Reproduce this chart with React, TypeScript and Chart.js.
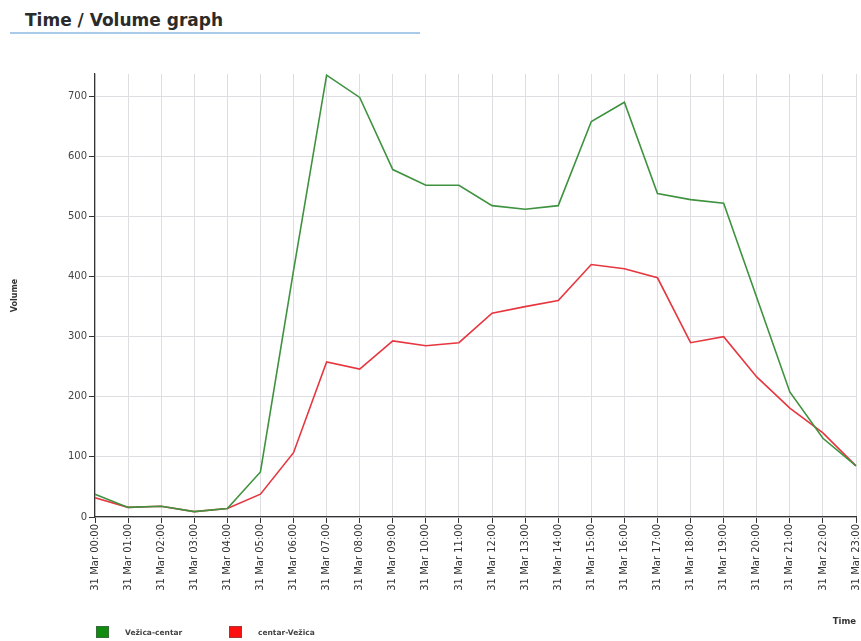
import React, { useEffect, useRef } from "react";
import { Chart, registerables } from "chart.js";

Chart.register(...registerables);

const hours = ["00:00","01:00","02:00","03:00","04:00","05:00","06:00","07:00","08:00","09:00","10:00","11:00","12:00","13:00","14:00","15:00","16:00","17:00","18:00","19:00","20:00","21:00","22:00","23:00"];
const categories = hours.map((h) => "31 Mar " + h);
const vezicaCentar = [38,16,18,9,14,75,410,735,698,578,552,552,518,512,518,658,690,538,528,522,365,208,131,85];
const centarVezica = [32,16,18,9,14,38,107,258,246,293,285,290,339,350,360,420,413,398,290,300,233,181,140,85];
const seriesNames = ["Vežica-centar", "centar-Vežica"];
const lineColors = ["#3f923f", "#e6363f"];
const legendColors = ["#118a11", "#ff1010"];
const yTicks = [0, 100, 200, 300, 400, 500, 600, 700];

const FONT = "'DejaVu Sans', sans-serif";

const legendPlugin = {
  id: "customLegend",
  afterDraw(chart: any) {
    const ctx = chart.ctx;
    const area = chart.chartArea;
    const y = 576;
    const starts = [area.left + 1, area.left + 134];
    ctx.save();
    chart.data.datasets.forEach((ds: any, i: number) => {
      const x = starts[i];
      ctx.fillStyle = ds.legendColor;
      ctx.fillRect(x, y, 13, 12);
      ctx.strokeStyle = "#555";
      ctx.lineWidth = 0.5;
      ctx.strokeRect(x + 0.25, y + 0.25, 12.5, 11.5);
      ctx.fillStyle = "#444";
      ctx.font = `bold 7.5px ${FONT}`;
      ctx.textBaseline = "middle";
      ctx.textAlign = "left";
      ctx.fillText(ds.label, x + 29, y + 7);
    });
    ctx.restore();
  },
};

export default function App() {
  const ref = useRef<HTMLCanvasElement | null>(null);
  useEffect(() => {
    if (!ref.current) return;
    const chart = new Chart(ref.current, {
      type: "line",
      data: {
        labels: categories,
        datasets: [
          {
            label: seriesNames[0],
            data: vezicaCentar,
            borderColor: lineColors[0],
            backgroundColor: lineColors[0],
            borderWidth: 1.6,
            pointRadius: 0,
            tension: 0,
            legendColor: legendColors[0],
          } as any,
          {
            label: seriesNames[1],
            data: centarVezica,
            borderColor: lineColors[1],
            backgroundColor: lineColors[1],
            borderWidth: 1.6,
            pointRadius: 0,
            tension: 0,
            legendColor: legendColors[1],
          } as any,
        ],
      },
      options: {
        animation: false,
        responsive: false,
        maintainAspectRatio: false,
        layout: { padding: { left: 0, right: 5, top: 24, bottom: 0 } },
        plugins: {
          legend: { display: false },
          tooltip: { enabled: false },
          title: { display: false },
        },
        scales: {
          x: {
            type: "category",
            offset: false,
            grid: {
              color: "#dddde2",
              tickColor: "#333",
              tickLength: 6,
              lineWidth: 1,
            },
            border: { color: "#333", width: 1.2 },
            ticks: {
              autoSkip: false,
              maxRotation: 90,
              minRotation: 90,
              padding: 1,
              color: "#333",
              font: { family: FONT, size: 10 },
            },
            title: {
              display: true,
              text: "Time",
              align: "end",
              color: "#333",
              font: { family: FONT, size: 8.5, weight: "bold" },
              padding: { top: 0, bottom: 14 },
            },
            afterFit(scale: any) {
              scale.height = 124;
              scale.paddingLeft = 0;
              scale.paddingRight = 0;
            },
          },
          y: {
            type: "linear",
            min: 0,
            max: 737,
            afterBuildTicks(scale: any) {
              scale.ticks = yTicks.map((v) => ({ value: v }));
            },
            grid: {
              color: "#dddde2",
              tickColor: "#333",
              tickLength: 6,
              lineWidth: 1,
            },
            border: { color: "#333", width: 1.2 },
            ticks: {
              padding: 2,
              color: "#444",
              font: { family: FONT, size: 10 },
            },
            title: {
              display: true,
              text: "Volume",
              color: "#333",
              font: { family: FONT, size: 8, weight: "bold" },
              padding: { top: 10, bottom: 0 },
            },
            afterFit(scale: any) {
              scale.width = 95;
            },
          },
        },
      },
      plugins: [legendPlugin],
    });
    return () => chart.destroy();
  }, []);

  return (
    <div
      style={{
        position: "fixed",
        left: 0,
        top: 0,
        width: 861,
        height: 641,
        overflow: "hidden",
        background: "#fff",
      }}
    >
      <div
        style={{
          position: "absolute",
          left: 10,
          top: 8,
          width: 410,
          height: 24,
          borderBottom: "2px solid #a9cbe9",
        }}
      >
        <span
          style={{
            position: "absolute",
            left: 15,
            top: 2,
            fontFamily: FONT,
            fontWeight: "bold",
            fontSize: 17,
            color: "#2b2b2b",
            whiteSpace: "nowrap",
          }}
        >
          Time / Volume graph
        </span>
      </div>
      <canvas
        ref={ref}
        width={861}
        height={591}
        style={{ position: "absolute", left: 0, top: 50, width: 861, height: 591 }}
      />
    </div>
  );
}
